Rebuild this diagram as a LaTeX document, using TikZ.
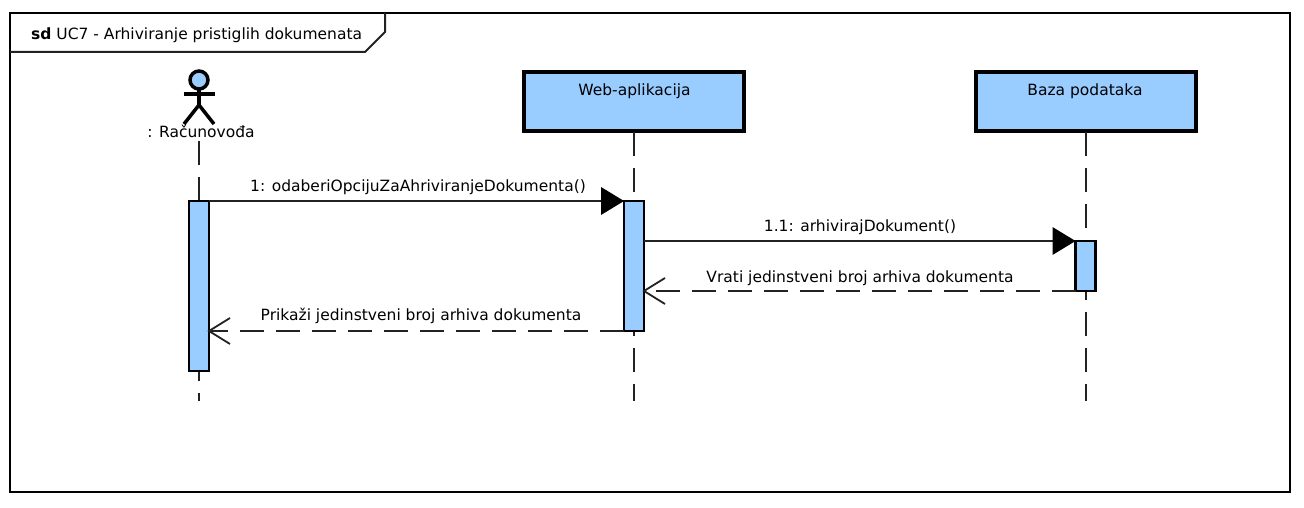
\documentclass[tikz,border=0pt]{standalone}
\usepackage{fontspec}
\setmainfont{DejaVu Sans}
\definecolor{umlblue}{HTML}{99CCFF}
\definecolor{umlline}{HTML}{222222}
\usetikzlibrary{arrows.meta}
\tikzset{
  x=1pt,y=-1pt,
  lab/.style={inner sep=0pt,anchor=base,font=\fontsize{15.5}{18}\selectfont,text=black},
  headbox/.style={draw=black,line width=4pt,fill=umlblue,minimum width=220pt,minimum height=59pt,inner sep=0pt,outer sep=0pt,anchor=north west},
  actbox/.style={draw=black,line width=2.6pt,fill=umlblue,minimum width=20pt,inner sep=0pt,outer sep=0pt,anchor=north west},
  lifeline/.style={draw=umlline,line width=2pt,dash pattern=on 24pt off 12pt},
  syncmsg/.style={draw=umlline,line width=2pt,-{Triangle[length=23pt,width=28pt,fill=black,line width=0pt]}},
  retmsg/.style={draw=umlline,line width=2pt,dash pattern=on 24pt off 12pt},
  openhead/.style={draw=umlline,line width=1.8pt},
  stick/.style={draw=black,line width=3.5pt}
}
\begin{document}
\begin{tikzpicture}
\useasboundingbox (0,0) rectangle (1304,508);
\fill[white] (0,0) rectangle (1304,508);
% frame
\draw[black,line width=2pt] (10,13) rectangle (1290,492);
\draw[umlline,line width=2pt] (10,52) -- (365,52) -- (385,32) -- (385,13);
\node[lab,anchor=base west] (title) at (31,40) {\textbf{sd} UC7 - Arhiviranje pristiglih dokumenata};
% lifeline heads
\node[headbox] (web) at (524,72) {};
\node[headbox] (db) at (975.5,72) {};
\node[lab] (webt) at (634.5,96) {Web-aplikacija};
\node[lab] (dbt) at (1085,96) {Baza podataka};
\coordinate (actortop) at (199,141);
\coordinate (actorend) at (199,401);
\coordinate (webend) at (634,401);
\coordinate (dbend) at (1085.5,401);
\draw[lifeline] (actortop) -- (actorend);
\draw[lifeline] ([yshift=-1pt]web.south) -- (webend);
\draw[lifeline] ([yshift=-1pt]db.south) -- (dbend);
% actor
\draw[stick,fill=umlblue] (199,80) circle (9);
\draw[stick] (199,89) -- (199,105);
\draw[stick] (183.5,94) -- (215,94);
\draw[stick] (184,124) -- (199,105) -- (214,124);
\node[lab] (actor) at (201,138) {: Računovođa};
% activations
\node[actbox,minimum height=170pt] (a1) at (189,201) {};
\node[actbox,minimum height=130pt] (a2) at (624,201) {};
\node[actbox,minimum height=50pt] (a3) at (1075.5,241) {};
% messages
\draw[syncmsg] (a1.north east) -- (a2.north west);
\draw[syncmsg] (a2.east |- a3.north) -- (a3.north west);
\draw[retmsg] (a3.south west) -- (a2.east |- a3.south);
\draw[retmsg] (a2.south west) -- (a1.east |- a2.south);
\draw[openhead] ([shift={(21,-13)}]a2.east |- a3.south) -- (a2.east |- a3.south) -- ([shift={(21,13)}]a2.east |- a3.south);
\draw[openhead] ([shift={(21,-13)}]a1.east |- a2.south) -- (a1.east |- a2.south) -- ([shift={(21,13)}]a1.east |- a2.south);
% labels
\node[lab] (m1) at (418,191) {1: odaberiOpcijuZaAhriviranjeDokumenta()};
\node[lab] (m2) at (860,231) {1.1: arhivirajDokument()};
\node[lab] (m3) at (860,282) {Vrati jedinstveni broj arhiva dokumenta};
\node[lab] (m4) at (421,320) {Prikaži jedinstveni broj arhiva dokumenta};
\end{tikzpicture}
\end{document}
